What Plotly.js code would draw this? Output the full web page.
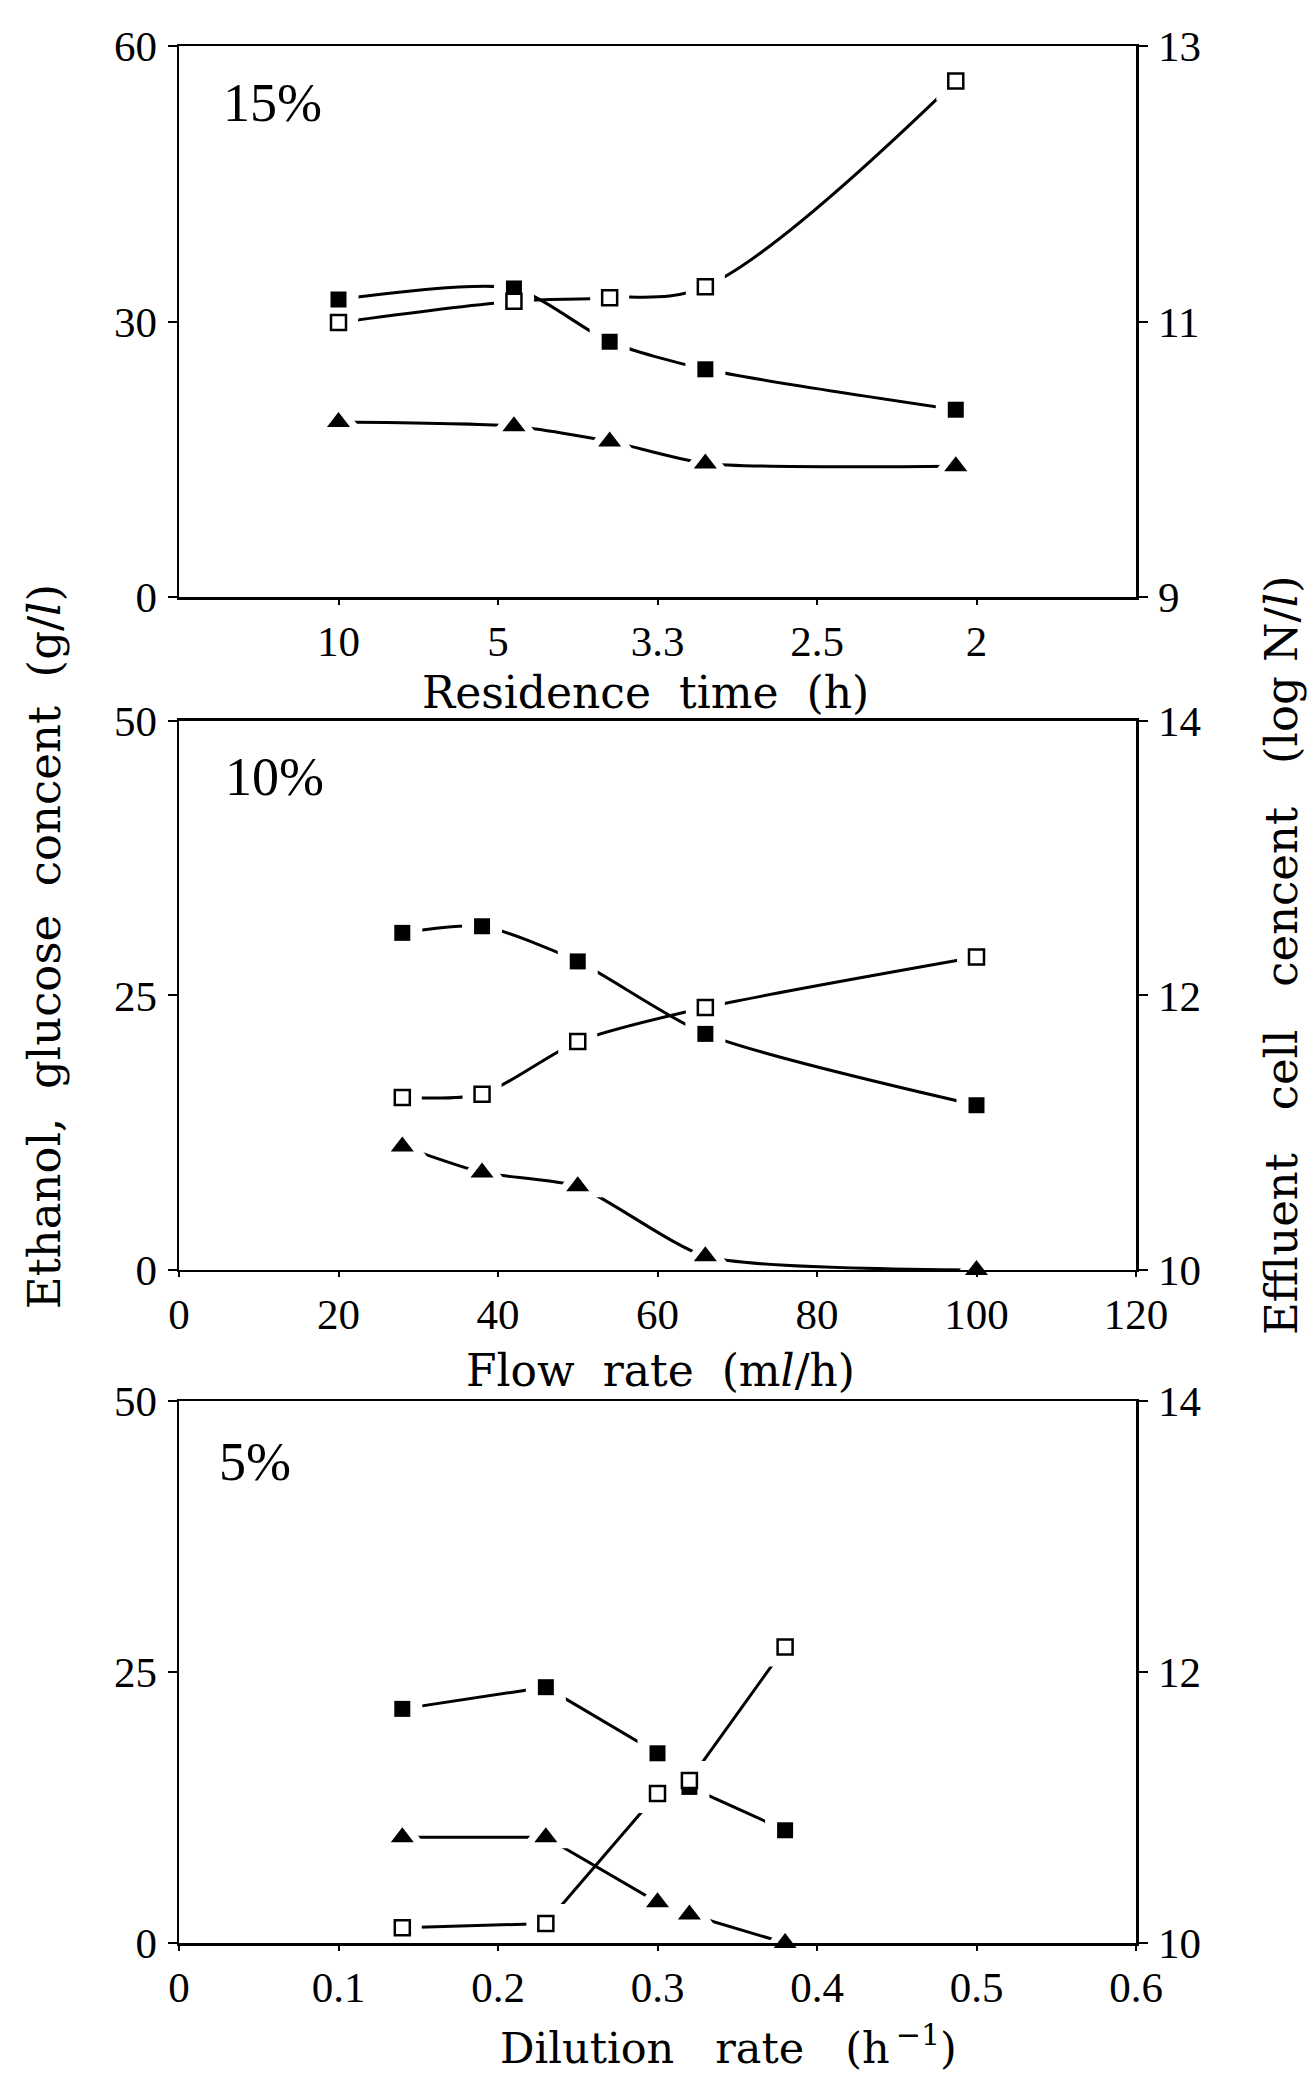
<!DOCTYPE html>
<html><head><meta charset="utf-8">
<script src="https://cdn.plot.ly/plotly-3.0.1.min.js"></script>
<style>body{margin:0;background:#fff}#chart{width:1314px;height:2078px}</style>
</head><body><div id="chart"></div>
<script>
// ---------- DATA ----------
// Panel 15% : x = dilution rate (h^-1), labelled as residence time
const res15Ticks = [0.1, 0.2, 0.3, 0.4, 0.5];
const res15Labels = ['10', '5', '3.3', '2.5', '2'];
const d15 = [0.1, 0.21, 0.27, 0.33, 0.487];
const ethanol15 = [32.4, 33.6, 27.8, 24.8, 20.4];
const glucose15 = [29.9, 32.2, 32.6, 33.8, 56.2];
const cells15 = [10.27, 10.24, 10.13, 9.97, 9.95];

// Panel 10% : x = flow rate (ml/h)
const flow10 = [28, 38, 50, 66, 100];
const ethanol10 = [30.7, 31.3, 28.1, 21.5, 15.0];
const glucose10 = [15.7, 16.0, 20.8, 23.9, 28.5];
const cells10 = [10.90, 10.71, 10.61, 10.10, 10.0];

// Panel 5% : x = dilution rate (h^-1)
const d5 = [0.14, 0.23, 0.30, 0.32, 0.38];
const ethanol5 = [21.6, 23.6, 17.5, 14.4, 10.4];
const glucose5 = [1.4, 1.8, 13.8, 15.0, 27.3];
const cells5 = [10.78, 10.78, 10.30, 10.21, 10.0];

const flowTicks = [0, 20, 40, 60, 80, 100, 120];
const dilTicks = [0, 0.1, 0.2, 0.3, 0.4, 0.5, 0.6];
const dilLabels = ['0', '0.1', '0.2', '0.3', '0.4', '0.5', '0.6'];

// ---------- BUILD ----------
const TF = '"Liberation Serif", "Times New Roman", serif';
const TT = '"DejaVu Serif", serif';
const lines = [], halos = [], marks = [];
const ovLines = [], ovHalos = [], ovMarks = [];

function addSeries(x, y, xa, ya, sym, filled, shape, smooth, size, ov) {
  const L = ov ? ovLines : lines, H = ov ? ovHalos : halos, M = ov ? ovMarks : marks;
  L.push({x: x, y: y, xaxis: xa, yaxis: ya, mode: 'lines', hoverinfo: 'skip',
    line: {color: '#000', width: 3, shape: shape, smoothing: smooth}, showlegend: false});
  H.push({x: x, y: y, xaxis: xa, yaxis: ya, mode: 'markers', hoverinfo: 'skip',
    marker: {symbol: sym, size: size + 24, color: '#ffffff', opacity: 1, line: {width: 0}}, showlegend: false});
  M.push({x: x, y: y, xaxis: xa, yaxis: ya, mode: 'markers', cliponaxis: false,
    marker: {symbol: sym, size: size, color: filled ? '#000' : '#fff',
      line: {color: '#000', width: filled ? 0 : 2.5}}, showlegend: false});
}

addSeries(d15, ethanol15, 'x', 'y', 'square', true, 'spline', 0.7, 16, false);
addSeries(d15, glucose15, 'x', 'y', 'square', false, 'spline', 1.0, 15, false);
addSeries(d15, cells15, 'x', 'y4', 'triangle-up', true, 'spline', 0.6, 20, true);

addSeries(flow10, ethanol10, 'x2', 'y2', 'square', true, 'spline', 0.7, 16, false);
addSeries(flow10, glucose10, 'x2', 'y2', 'square', false, 'spline', 0.7, 15, false);
addSeries(flow10, cells10, 'x2', 'y5', 'triangle-up', true, 'spline', 0.6, 20, true);

addSeries(d5, ethanol5, 'x3', 'y3', 'square', true, 'linear', 0, 16, false);
addSeries(d5, glucose5, 'x3', 'y3', 'square', false, 'linear', 0, 15, false);
addSeries(d5, cells5, 'x3', 'y6', 'triangle-up', true, 'linear', 0, 20, true);

const data = [].concat(lines, halos, marks, ovLines, ovHalos, ovMarks);

function xax(anchor, range, vals, text) {
  return {domain: [0, 1], anchor: anchor, range: range, tickmode: 'array', tickvals: vals, ticktext: text,
    ticks: 'outside', ticklen: 5, tickwidth: 2, tickcolor: '#000', showline: true, linewidth: 2.5,
    linecolor: '#000', mirror: true, showgrid: false, zeroline: false, ticklabelstandoff: 0,
    tickfont: {family: TF, size: 43, color: '#000'}};
}
function yax(anchor, dom, range, vals) {
  return {domain: dom, anchor: anchor, range: range, tickmode: 'array', tickvals: vals,
    ticks: 'outside', ticklen: 9, tickwidth: 2, tickcolor: '#000', showline: true, linewidth: 2.5,
    linecolor: '#000', showgrid: false, zeroline: false, ticklabelstandoff: 2,
    tickfont: {family: TF, size: 43, color: '#000'}};
}
function yr(over, anchor, range, vals) {
  const a = yax(anchor, [0, 1], range, vals);
  delete a.domain;
  a.overlaying = over; a.side = 'right';
  return a;
}

const s2 = '\u00a0\u00a0';
const s3 = '\u00a0\u00a0\u00a0';
const layout = {
  width: 1314, height: 2078,
  margin: {l: 179, r: 178, t: 46, b: 135},
  paper_bgcolor: '#fff', plot_bgcolor: '#fff', showlegend: false,
  font: {family: TF, color: '#000'},
  xaxis: xax('y', [0, 0.6], res15Ticks, res15Labels),
  xaxis2: xax('y2', [0, 120], flowTicks, flowTicks.map(String)),
  xaxis3: xax('y3', [0, 0.6], dilTicks, dilLabels),
  yaxis: yax('x', [0.7095, 1], [0, 60], [0, 30, 60]),
  yaxis2: yax('x2', [0.3548, 0.6442], [0, 50], [0, 25, 50]),
  yaxis3: yax('x3', [0, 0.2857], [0, 50], [0, 25, 50]),
  yaxis4: yr('y', 'x', [9, 13], [9, 11, 13]),
  yaxis5: yr('y2', 'x2', [10, 14], [10, 12, 14]),
  yaxis6: yr('y3', 'x3', [10, 14], [10, 12, 14]),
  annotations: [
    {text: '15%', xref: 'paper', yref: 'paper', x: 0.044, y: 0.9868, xanchor: 'left', yanchor: 'top', showarrow: false, font: {family: TF, size: 54, color: '#000'}},
    {text: '10%', xref: 'paper', yref: 'paper', x: 0.046, y: 0.6315, xanchor: 'left', yanchor: 'top', showarrow: false, font: {family: TF, size: 54, color: '#000'}},
    {text: '5%', xref: 'paper', yref: 'paper', x: 0.040, y: 0.2704, xanchor: 'left', yanchor: 'top', showarrow: false, font: {family: TF, size: 54, color: '#000'}},
    {text: 'Residence' + s2 + 'time' + s2 + '(h)', xref: 'paper', yref: 'paper', x: 0.487, y: 0.659, xanchor: 'center', yanchor: 'middle', showarrow: false, font: {family: TT, size: 44, color: '#000'}},
    {text: 'Flow' + s2 + 'rate' + s2 + '(m<i>l</i>/h)', xref: 'paper', yref: 'paper', x: 0.503, y: 0.3016, xanchor: 'center', yanchor: 'middle', showarrow: false, font: {family: TT, size: 44, color: '#000'}},
    {text: 'Dilution' + s3 + 'rate' + s3 + '(h<sup>\u2009\u22121</sup>)', xref: 'paper', yref: 'paper', x: 0.574, y: -0.054, xanchor: 'center', yanchor: 'middle', showarrow: false, font: {family: TT, size: 43, color: '#000'}},
    {text: 'Ethanol,' + s2 + 'glucose' + s2 + 'concent' + s2 + '(g/<i>l</i>)', xref: 'paper', yref: 'paper', x: -0.141, y: 0.525, xanchor: 'center', yanchor: 'middle', textangle: -90, showarrow: false, font: {family: TT, size: 45, color: '#000'}},
    {text: 'Effluent' + s3 + 'cell' + s3 + 'cencent' + s3 + '(log' + '\u00a0' + 'N/<i>l</i>)', xref: 'paper', yref: 'paper', x: 1.1515, y: 0.5208, xanchor: 'center', yanchor: 'middle', textangle: -90, showarrow: false, font: {family: TT, size: 45, color: '#000'}}
  ]
};

Plotly.newPlot('chart', data, layout, {staticPlot: true, displayModeBar: false});
</script></body></html>
